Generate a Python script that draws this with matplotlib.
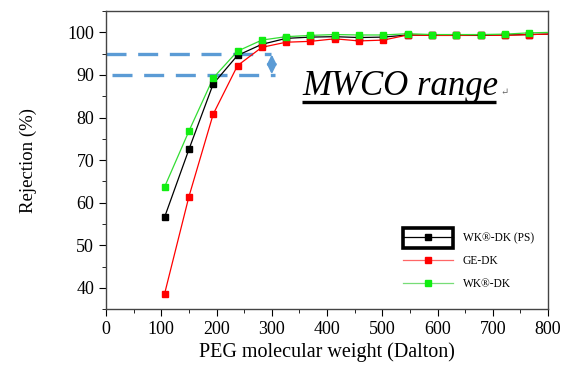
import matplotlib
matplotlib.use("Agg")
from matplotlib import pyplot as plt
from matplotlib.patches import Rectangle
from matplotlib.ticker import MultipleLocator

peg_mw = [106, 150, 194, 238, 282, 326, 370, 414, 458, 502, 546, 590, 634, 678, 722, 766]
wk_ps = [56.6, 72.5, 87.9, 94.6, 97.2, 98.6, 98.9, 99.0, 98.8, 98.9, 99.4, 99.3, 99.3, 99.3, 99.4, 99.5]
ge_dk = [38.6, 61.4, 80.8, 92.2, 96.5, 97.7, 97.9, 98.5, 98.0, 98.2, 99.4, 99.3, 99.3, 99.4, 99.3, 99.5]
wk_dk = [63.7, 76.8, 89.3, 95.6, 98.2, 99.0, 99.3, 99.5, 99.4, 99.4, 99.7, 99.5, 99.5, 99.5, 99.6, 99.9]
line_end = [800, 99.6, 99.6, 100.0]  # x, black, red, green at right edge

labels = ["WK\u00ae-DK (PS)", "GE-DK", "WK\u00ae-DK"]
mwco_low, mwco_high = 90, 95

plt.rcParams['font.family'] = ['Liberation Serif', 'DejaVu Serif']

fig = plt.figure(figsize=(5.87, 3.84), dpi=100)
ax = fig.add_axes([0.1806, 0.195, 0.7530, 0.776])

series = [(wk_ps, 'black', 'black', 1), (ge_dk, 'red', 'red', 2), (wk_dk, '#33dd33', '#11ee11', 3)]
handles = []
for ys, lc, mc, i in series:
    xs = peg_mw + [line_end[0]]
    yy = ys + [line_end[i]]
    ax.plot(xs, yy, color=lc, lw=0.9, zorder=3)
    h, = ax.plot(peg_mw, ys, ls='none', marker='s', ms=5, color=mc, zorder=4)
    handles.append(h)

# MWCO dashed guides
blue = '#5b9bd5'
ax.plot([0, 298], [mwco_high, mwco_high], color=blue, lw=2.4, dashes=(6, 3.5), clip_on=False, zorder=2)
ax.plot([10, 305], [mwco_low, mwco_low], color=blue, lw=2.4, dashes=(6, 3.5), zorder=2)
ax.annotate('', xy=(300, mwco_high - 0.2), xytext=(300, mwco_low + 0.2),
            arrowprops=dict(arrowstyle='<|-|>', color=blue, lw=1.5, mutation_scale=14,
                            shrinkA=0, shrinkB=0))

ax.text(355, 85.3, 'MWCO range', fontsize=25, style='italic', ha='left', va='baseline')
ax.text(714, 85.3, '\u21b5', fontsize=7, color='#666666', ha='left', va='baseline')
ax.plot([355, 705], [83.6, 83.6], color='black', lw=2.4, solid_capstyle='butt')

ax.set_xlim(0, 800)
ax.set_ylim(35, 105)
ax.xaxis.set_major_locator(MultipleLocator(100))
ax.xaxis.set_minor_locator(MultipleLocator(50))
ax.yaxis.set_minor_locator(MultipleLocator(5))
ax.set_yticks(range(40, 101, 10))
ax.tick_params(which='both', direction='out', top=False, right=False, labelsize=13)
ax.tick_params(which='major', length=5)
ax.tick_params(which='minor', length=3)
for s in ax.spines.values():
    s.set_color('#444444')
    s.set_linewidth(1.0)

ax.set_xlabel('PEG molecular weight (Dalton)', fontsize=14.5, labelpad=3)
ax.set_ylabel('Rejection (%)', fontsize=13.5, labelpad=22)

leg = ax.legend(handles, labels, loc='upper left', bbox_to_anchor=(0.672, 0.258),
                frameon=False, fontsize=8.3, handlelength=4.3, handletextpad=0.9,
                labelspacing=0.95, borderpad=0, borderaxespad=0)
for h, c in zip(leg.legend_handles, ['black', '#ff6666', '#77dd77']):
    h.set_linestyle('-')
    h.set_linewidth(0.9)
    h.set_color(c)
for h, c in zip(leg.legend_handles, ['black', 'red', '#11ee11']):
    h.set_markerfacecolor(c)
    h.set_markeredgecolor(c)

ax.add_patch(Rectangle((0.672, 0.205), 0.113, 0.068, transform=ax.transAxes,
                       fill=False, lw=2.6, ec='black', zorder=5))

fig.savefig('out.png', dpi=100)
